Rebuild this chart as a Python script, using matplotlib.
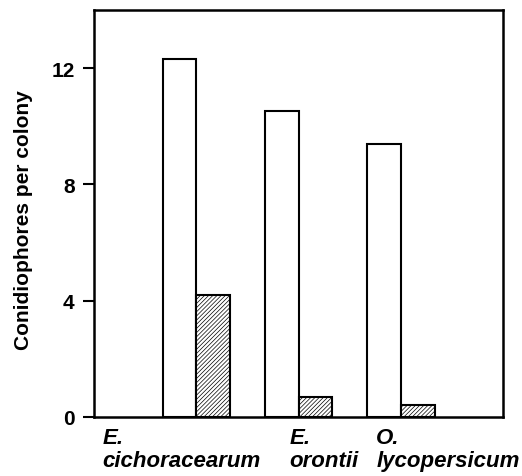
import matplotlib.pyplot as plt
import numpy as np

plt.rcParams['font.family'] = ['Liberation Sans', 'DejaVu Sans']
plt.rcParams['hatch.color'] = '#666666'
plt.rcParams['hatch.linewidth'] = 0.5

species = ['E.\ncichoracearum', 'E.\norontii', 'O.\nlycopersicum']
label_pos = [-0.92, 0.91, 1.76]
open_vals = [12.3, 10.52, 9.39]
hatched_vals = [4.21, 0.70, 0.41]

fig = plt.figure(figsize=(5.22, 4.77), dpi=100)
ax = fig.add_axes([0.180, 0.1237, 0.784, 0.8533])

x = np.arange(len(species))
w = 0.33
ax.bar(x - w / 2, open_vals, w, color='white', edgecolor='black', linewidth=1.5)
ax.bar(x + w / 2, hatched_vals, w, color='white', edgecolor='black', linewidth=1.5,
       hatch='////////')

ax.set_xlim(-1, 3)
ax.set_ylim(0, 14)
ax.set_yticks([0, 4, 8, 12])
ax.set_yticklabels(['0', '4', '8', '12'], fontsize=15, fontweight='bold')
ax.set_xticks(label_pos)
ax.set_xticklabels(species, fontsize=16, fontweight='bold', style='italic',
                   ha='left', multialignment='left', linespacing=1.15)
ax.tick_params(axis='x', length=0, pad=7)
ax.tick_params(axis='y', direction='out', length=8, width=1.5, pad=6)
ax.set_ylabel('Conidiophores per colony', fontsize=15, fontweight='bold')
ax.yaxis.set_label_coords(-0.15, 0.487)

for s in ax.spines.values():
    s.set_linewidth(1.8)

fig.savefig('out.png', dpi=100)
